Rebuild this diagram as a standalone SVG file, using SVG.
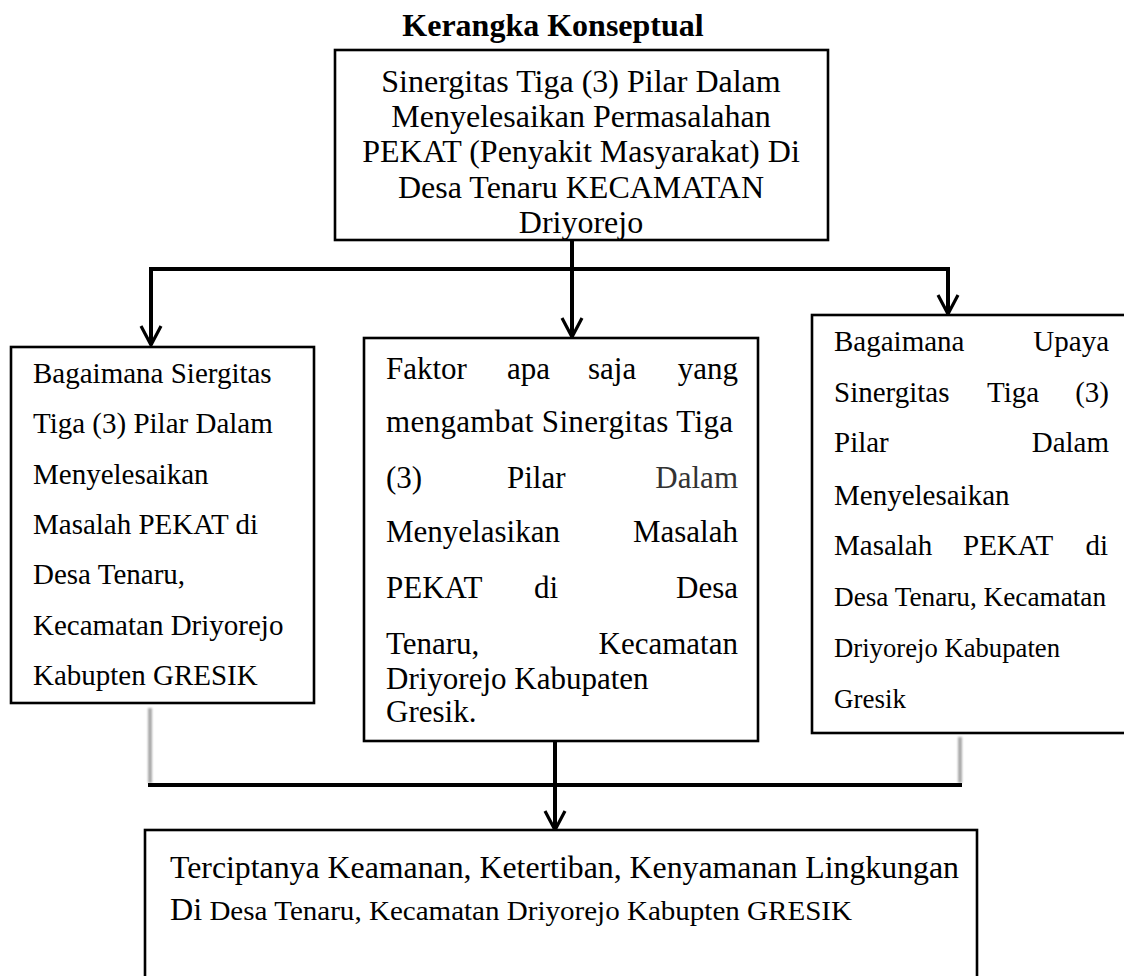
<svg xmlns="http://www.w3.org/2000/svg" width="1124" height="976" viewBox="0 0 1124 976">
<defs>
<style>
.box{fill:#fff;stroke:#000;stroke-width:2.6}
.t{font-family:"Liberation Serif","Times New Roman",serif;fill:#000}
.ttl{font-size:32px;font-weight:bold}
.f32{font-size:32px}
.f31{font-size:31px}
.f29{font-size:29px}
.f27{font-size:27px}
.conn{stroke:#000;stroke-width:4;fill:none}
.grey{stroke:#a9a9a9;stroke-width:4;fill:none}
</style>
<marker id="ah" markerUnits="userSpaceOnUse" viewBox="0 0 24 24" refX="22" refY="12" markerWidth="24" markerHeight="24" orient="auto">
<path d="M3,2 L22,12 L3,22" fill="none" stroke="#000" stroke-width="3.2" stroke-linejoin="miter"/>
</marker>
<filter id="blur" x="-2" y="-0.2" width="5" height="1.4">
<feGaussianBlur stdDeviation="1.3"/>
</filter>
</defs>
<rect width="1124" height="976" fill="#fff"/>

<text id="title" class="t ttl" x="553" y="36" text-anchor="middle">Kerangka Konseptual</text>

<g id="connectors">
<line class="conn" x1="572" y1="240" x2="572" y2="269"/>
<line class="conn" x1="149" y1="269" x2="950" y2="269"/>
<line class="conn" x1="151" y1="269" x2="151" y2="345" marker-end="url(#ah)"/>
<line class="conn" x1="572" y1="269" x2="572" y2="337" marker-end="url(#ah)"/>
<line class="conn" x1="948" y1="269" x2="948" y2="314" marker-end="url(#ah)"/>
<g filter="url(#blur)">
<line class="grey" x1="150" y1="708" x2="150" y2="783"/>
<line class="grey" x1="960" y1="737" x2="960" y2="783"/>
</g>
<line class="conn" x1="148" y1="785" x2="962" y2="785"/>
<line class="conn" x1="555" y1="741" x2="555" y2="830" stroke-width="5" marker-end="url(#ah)"/>
</g>

<g id="node-top">
<rect class="box" x="335" y="50" width="493" height="190"/>
<g class="t f32" text-anchor="middle">
<text x="581" y="92">Sinergitas Tiga (3) Pilar Dalam</text>
<text x="581" y="127">Menyelesaikan Permasalahan</text>
<text x="581" y="162">PEKAT (Penyakit Masyarakat) Di</text>
<text x="581" y="198">Desa Tenaru KECAMATAN</text>
<text x="581" y="233">Driyorejo</text>
</g>
</g>

<g id="node-left">
<rect class="box" x="11" y="347" width="303" height="356"/>
<g class="t f29">
<text x="33" y="383">Bagaimana Siergitas</text>
<text x="33" y="433">Tiga (3) Pilar Dalam</text>
<text x="33" y="484">Menyelesaikan</text>
<text x="33" y="534">Masalah PEKAT di</text>
<text x="33" y="584">Desa Tenaru,</text>
<text x="33" y="635">Kecamatan Driyorejo</text>
<text x="33" y="685">Kabupten GRESIK</text>
</g>
</g>

<g id="node-middle">
<rect class="box" x="364" y="338" width="394" height="403"/>
<g class="t f31">
<text x="386" y="379">Faktor</text>
<text x="507" y="379">apa</text>
<text x="588" y="379">saja</text>
<text x="738" y="379" text-anchor="end">yang</text>
<text x="386" y="432" textLength="347" lengthAdjust="spacing">mengambat Sinergitas Tiga</text>
<text x="386" y="488">(3)</text>
<text x="507" y="488">Pilar</text>
<text x="738" y="488" text-anchor="end" fill="#333">Dalam</text>
<text x="386" y="542">Menyelasikan</text>
<text x="738" y="542" text-anchor="end">Masalah</text>
<text x="386" y="598">PEKAT</text>
<text x="534" y="598">di</text>
<text x="738" y="598" text-anchor="end">Desa</text>
<text x="386" y="654">Tenaru,</text>
<text x="738" y="654" text-anchor="end">Kecamatan</text>
<text x="386" y="689">Driyorejo Kabupaten</text>
<text x="386" y="722">Gresik.</text>
</g>
</g>

<g id="node-right">
<rect class="box" x="812" y="315" width="320" height="418"/>
<g class="t f29">
<text x="834" y="351">Bagaimana</text>
<text x="1109" y="351" text-anchor="end">Upaya</text>
<text x="834" y="402">Sinergitas</text>
<text x="987" y="402">Tiga</text>
<text x="1109" y="402" text-anchor="end">(3)</text>
<text x="834" y="452">Pilar</text>
<text x="1109" y="452" text-anchor="end">Dalam</text>
<text x="834" y="505">Menyelesaikan</text>
<text x="834" y="555">Masalah</text>
<text x="963" y="555">PEKAT</text>
<text x="1108" y="555" text-anchor="end">di</text>
</g>
<g class="t f27">
<text x="834" y="606" textLength="272" lengthAdjust="spacingAndGlyphs">Desa Tenaru, Kecamatan</text>
<text x="834" y="657" textLength="226" lengthAdjust="spacingAndGlyphs">Driyorejo Kabupaten</text>
<text x="834" y="708">Gresik</text>
</g>
</g>

<g id="node-bottom">
<rect class="box" x="145" y="830" width="832" height="160"/>
<text class="t" x="170" y="878" font-size="31" textLength="789" lengthAdjust="spacingAndGlyphs">Terciptanya Keamanan, Ketertiban, Kenyamanan Lingkungan</text>
<text class="t" x="170" y="920" font-size="28" textLength="682" lengthAdjust="spacingAndGlyphs"><tspan font-size="31">Di</tspan> Desa Tenaru, Kecamatan Driyorejo Kabupten GRESIK</text>
</g>
</svg>
